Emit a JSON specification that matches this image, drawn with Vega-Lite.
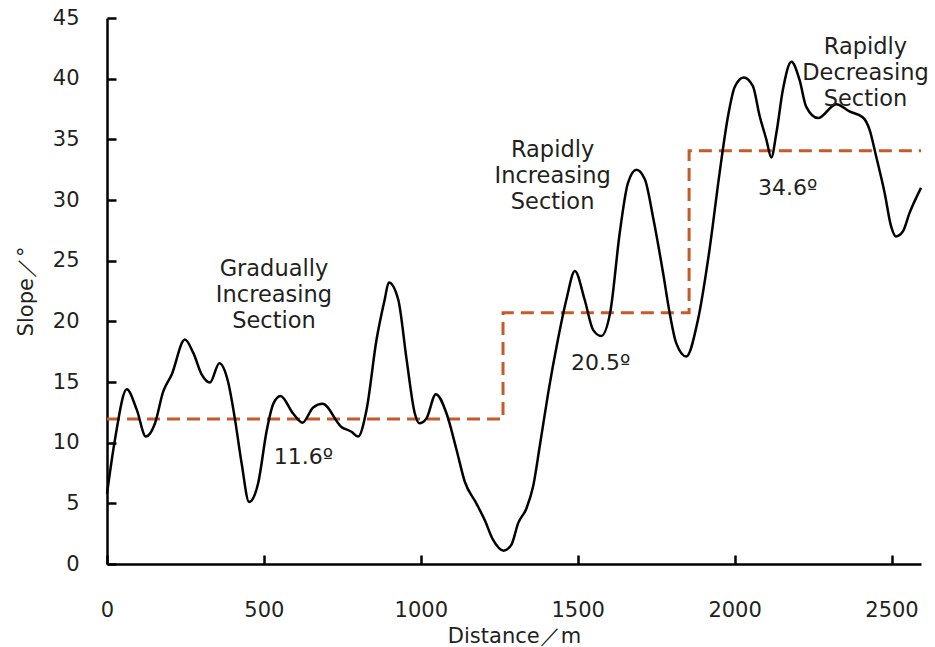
{
  "$schema": "https://vega.github.io/schema/vega-lite/v6.json",
  "width": 814,
  "height": 546,
  "autosize": {"type": "none"},
  "padding": {"left": 107, "top": 18, "right": 14, "bottom": 83},
  "background": "white",
  "config": {
    "view": {"stroke": null},
    "font": "DejaVu Sans",
    "axis": {
      "grid": false,
      "domainColor": "#000000",
      "domainWidth": 2.5,
      "tickColor": "#000000",
      "tickWidth": 2.5,
      "tickSize": -9,
      "labelFont": "DejaVu Sans",
      "labelFontSize": 21,
      "labelColor": "#231f20",
      "titleFont": "DejaVu Sans",
      "titleFontSize": 21,
      "titleFontWeight": "normal",
      "titleColor": "#231f20"
    }
  },
  "datasets": {
    "curve": [
      {"d": 0, "s": 5.8}, {"d": 25, "s": 10.2}, {"d": 63, "s": 14.4}, {"d": 95, "s": 12.7},
      {"d": 124, "s": 10.5}, {"d": 153, "s": 11.6}, {"d": 179, "s": 14.2}, {"d": 206, "s": 15.6},
      {"d": 248, "s": 18.5}, {"d": 275, "s": 17.4}, {"d": 302, "s": 15.6}, {"d": 328, "s": 14.95},
      {"d": 358, "s": 16.55}, {"d": 386, "s": 15.0}, {"d": 408, "s": 11.9}, {"d": 429, "s": 8.3},
      {"d": 453, "s": 5.1}, {"d": 482, "s": 6.7}, {"d": 509, "s": 11.0}, {"d": 530, "s": 13.2},
      {"d": 553, "s": 13.85}, {"d": 593, "s": 12.4}, {"d": 623, "s": 11.65}, {"d": 657, "s": 12.9},
      {"d": 687, "s": 13.2}, {"d": 747, "s": 11.3}, {"d": 779, "s": 10.9}, {"d": 800, "s": 10.5},
      {"d": 827, "s": 12.7}, {"d": 859, "s": 18.5}, {"d": 885, "s": 21.8}, {"d": 898, "s": 23.2},
      {"d": 928, "s": 21.8}, {"d": 955, "s": 16.8}, {"d": 981, "s": 12.4}, {"d": 995, "s": 11.6},
      {"d": 1018, "s": 12.0}, {"d": 1048, "s": 14.0}, {"d": 1082, "s": 12.4}, {"d": 1114, "s": 9.4},
      {"d": 1140, "s": 6.8}, {"d": 1177, "s": 5.0}, {"d": 1204, "s": 3.6}, {"d": 1230, "s": 2.0},
      {"d": 1264, "s": 1.1}, {"d": 1289, "s": 1.6}, {"d": 1310, "s": 3.35}, {"d": 1337, "s": 4.6},
      {"d": 1358, "s": 6.4}, {"d": 1379, "s": 9.7}, {"d": 1406, "s": 14.1}, {"d": 1437, "s": 18.5},
      {"d": 1464, "s": 21.8}, {"d": 1491, "s": 24.15}, {"d": 1522, "s": 21.8}, {"d": 1549, "s": 19.3},
      {"d": 1575, "s": 18.8}, {"d": 1604, "s": 20.8}, {"d": 1634, "s": 27.3}, {"d": 1660, "s": 31.4},
      {"d": 1687, "s": 32.5}, {"d": 1714, "s": 31.7}, {"d": 1740, "s": 28.6}, {"d": 1772, "s": 24.0},
      {"d": 1793, "s": 20.7}, {"d": 1814, "s": 18.2}, {"d": 1846, "s": 17.1}, {"d": 1883, "s": 20.1},
      {"d": 1920, "s": 25.9}, {"d": 1952, "s": 32.2}, {"d": 1979, "s": 36.9}, {"d": 2000, "s": 39.3},
      {"d": 2029, "s": 40.1}, {"d": 2058, "s": 39.4}, {"d": 2080, "s": 36.9}, {"d": 2101, "s": 35.0},
      {"d": 2117, "s": 33.5}, {"d": 2133, "s": 35.5}, {"d": 2154, "s": 39.1}, {"d": 2181, "s": 41.4},
      {"d": 2207, "s": 39.9}, {"d": 2228, "s": 37.7}, {"d": 2266, "s": 36.75}, {"d": 2324, "s": 37.9},
      {"d": 2366, "s": 37.3}, {"d": 2409, "s": 36.8}, {"d": 2430, "s": 35.8}, {"d": 2451, "s": 33.6},
      {"d": 2478, "s": 30.6}, {"d": 2499, "s": 27.8}, {"d": 2514, "s": 27.0}, {"d": 2536, "s": 27.4},
      {"d": 2557, "s": 28.9}, {"d": 2594, "s": 31.0}
    ],
    "steps": [
      {"d": 0, "s": 11.95}, {"d": 1262, "s": 20.7}, {"d": 1855, "s": 34.05}, {"d": 2594, "s": 34.05}
    ],
    "sections": [
      {"d": 532, "s": 24.3, "label": "Gradually\nIncreasing\nSection"},
      {"d": 1420, "s": 34.1, "label": "Rapidly\nIncreasing\nSection"},
      {"d": 2417, "s": 42.6, "label": "Rapidly\nDecreasing\nSection"}
    ],
    "means": [
      {"d": 626, "s": 8.8, "label": "11.6º"},
      {"d": 1573, "s": 16.6, "label": "20.5º"},
      {"d": 2169, "s": 31.0, "label": "34.6º"}
    ]
  },
  "encoding": {
    "x": {
      "field": "d", "type": "quantitative",
      "scale": {"domain": [0, 2594], "nice": false, "zero": false},
      "axis": {"title": "Distance／m", "format": "d", "values": [0, 500, 1000, 1500, 2000, 2500], "labelPadding": 44, "titlePadding": 5, "labelFlush": false}
    },
    "y": {
      "field": "s", "type": "quantitative",
      "scale": {"domain": [0, 45], "nice": false},
      "axis": {"title": "Slope／°", "values": [0, 5, 10, 15, 20, 25, 30, 35, 40, 45], "labelPadding": 37, "titlePadding": 16}
    }
  },
  "layer": [
    {
      "data": {"name": "steps"},
      "mark": {"type": "line", "interpolate": "step-after", "color": "#C65A28", "strokeWidth": 3, "strokeDash": [13, 7]}
    },
    {
      "data": {"name": "curve"},
      "mark": {"type": "line", "interpolate": "monotone", "color": "#000000", "strokeWidth": 2.5}
    },
    {
      "data": {"name": "sections"},
      "mark": {"type": "text", "font": "DejaVu Sans", "fontSize": 22.5, "lineHeight": 26, "lineBreak": "\n", "align": "center", "baseline": "middle", "color": "#231f20"},
      "encoding": {"text": {"field": "label"}}
    },
    {
      "data": {"name": "means"},
      "mark": {"type": "text", "font": "DejaVu Sans", "fontSize": 22, "align": "center", "baseline": "middle", "color": "#231f20"},
      "encoding": {"text": {"field": "label"}}
    }
  ]
}
